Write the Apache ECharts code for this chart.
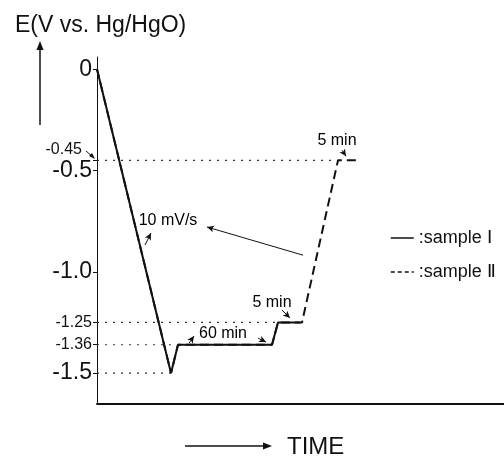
<!DOCTYPE html>
<html>
<head>
<meta charset="utf-8">
<script src="https://cdn.jsdelivr.net/npm/echarts@6/dist/echarts.min.js"></script>
<style>
html,body{margin:0;padding:0;background:#fff;}
#c{width:504px;height:457px;}
</style>
</head>
<body>
<div id="c"></div>
<script>
// ---- data (schematic time units, E in V vs Hg/HgO) ----
const yTickValues = [0, -0.45, -0.5, -1.0, -1.25, -1.36, -1.5];
const yTickLabels = ['0', '-0.45', '-0.5', '-1.0', '-1.25', '-1.36', '-1.5'];
const sampleI_t = [0, 74, 81, 175, 181, 203];
const sampleI_E = [0, -1.5, -1.36, -1.36, -1.25, -1.25];
const sampleII_t = [0, 74, 81, 175, 181, 205, 241, 263];
const sampleII_E = [0, -1.5, -1.36, -1.36, -1.25, -1.25, -0.45, -0.45];
const refLevels = [-0.45, -1.25, -1.36, -1.5];
const refEnds = [241, 181, 81, 74];
const seriesNames = ['sample Ⅰ', 'sample Ⅱ'];
const annoTexts = ['10 mV/s', '60 min', '5 min', '5 min'];
const annoT = [71, 126, 175, 240];
const annoE = [-0.745, -1.307, -1.154, -0.355];
const arrowFromT = [206, 48, 92, 161, 185, 245];
const arrowFromE = [-0.918, -0.868, -1.352, -1.327, -1.189, -0.40];
const arrowToT = [110, 54, 97, 169, 193, 249];
const arrowToE = [-0.779, -0.809, -1.317, -1.347, -1.228, -0.43];

const FONT = '"Liberation Sans", Arial, sans-serif';
const INK = '#111';

const chart = echarts.init(document.getElementById('c'), null, {renderer: 'canvas'});

const zip = (a, b) => a.map((v, i) => [v, b[i]]);

const series = [
  {
    name: seriesNames[0], type: 'line', data: zip(sampleI_t, sampleI_E),
    symbol: 'none', lineStyle: {color: INK, width: 2, type: 'solid'}, itemStyle: {color: INK},
    z: 3
  },
  {
    name: seriesNames[1], type: 'line', data: zip(sampleII_t, sampleII_E),
    symbol: 'none', lineStyle: {color: INK, width: 2, type: [9, 5]}, itemStyle: {color: INK},
    z: 4
  }
];
refLevels.forEach((lv, i) => {
  series.push({
    type: 'line', data: [[0, lv], [refEnds[i], lv]], symbol: 'none', silent: true,
    lineStyle: {color: '#333', width: 1.2, type: [2, 6]}, z: 2
  });
});
series.push({
  type: 'scatter', symbolSize: 1, silent: true,
  itemStyle: {opacity: 0},
  data: annoTexts.map((t, i) => ({value: [annoT[i], annoE[i]], name: t})),
  label: {show: true, position: 'inside', formatter: p => p.name,
    fontFamily: FONT, fontSize: 16, color: '#000', opacity: 1}
});
series.push({
  type: 'line', data: [], silent: true,
  markLine: {
    silent: true, symbol: ['none', 'arrow'], symbolSize: [5, 7],
    label: {show: false},
    lineStyle: {color: INK, width: 1, type: 'solid'},
    data: arrowFromT.map((t, i) => [{coord: [t, arrowFromE[i]]}, {coord: [arrowToT[i], arrowToE[i]]}])
  }
});

const labelMap = {};
yTickValues.forEach((v, i) => labelMap[v.toFixed(2)] = yTickLabels[i]);

chart.setOption({
  animation: false,
  backgroundColor: '#fff',
  title: {
    text: 'E(V vs. Hg/HgO)', left: 10, top: 9,
    textStyle: {fontFamily: FONT, fontSize: 23, fontWeight: 'normal', color: INK}
  },
  legend: {
    orient: 'vertical', left: 385, top: 224, itemGap: 16,
    itemWidth: 23, itemHeight: 12,
    data: [
      {name: seriesNames[0], lineStyle: {width: 1.5, type: 'solid', color: INK},
        itemStyle: {opacity: 0, color: 'transparent', borderWidth: 0}},
      {name: seriesNames[1], lineStyle: {width: 1.5, type: [4, 3], color: INK},
        itemStyle: {opacity: 0, color: 'transparent', borderWidth: 0}}
    ],
    formatter: n => ':' + n,
    textStyle: {fontFamily: FONT, fontSize: 18, color: INK},
    selectedMode: false
  },
  grid: {left: 97, top: 57, width: 407, height: 346.5},
  xAxis: {
    type: 'value', min: 0, max: 407,
    axisLine: {show: true, onZero: false, lineStyle: {color: INK, width: 2}},
    axisTick: {show: false}, axisLabel: {show: false}, splitLine: {show: false}
  },
  yAxis: {
    type: 'value', min: -1.65, max: 0.06,
    axisLine: {show: true, onZero: false, lineStyle: {color: INK, width: 1}},
    axisTick: {show: true, customValues: yTickValues, length: 4, lineStyle: {color: INK}},
    splitLine: {show: false},
    axisLabel: {
      show: true, customValues: yTickValues, margin: 5,
      formatter: v => {
        const t = labelMap[Number(v).toFixed(2)];
        if (t === '-0.45') return '{u|' + t + '}';
        if (t === '0' || t === '-0.5' || t === '-1.0' || t === '-1.5') return '{b|' + t + '}';
        return '{s|' + t + '}';
      },
      rich: {
        b: {fontFamily: FONT, fontSize: 23, color: INK},
        s: {fontFamily: FONT, fontSize: 16, color: INK},
        u: {fontFamily: FONT, fontSize: 16, color: INK, padding: [0, 10, 22, 0]}
      }
    }
  },
  graphic: [
    {type: 'line', shape: {x1: 40, y1: 125, x2: 40, y2: 48}, style: {stroke: INK, lineWidth: 1.5}},
    {type: 'polygon', shape: {points: [[40, 41], [36.5, 50], [43.5, 50]]}, style: {fill: INK}},
    {type: 'line', shape: {x1: 185, y1: 446, x2: 264, y2: 446}, style: {stroke: INK, lineWidth: 1.5}},
    {type: 'polygon', shape: {points: [[272, 446], [263, 442.5], [263, 449.5]]}, style: {fill: INK}},
    {type: 'text', left: 287, top: 435, style: {text: 'TIME', fontFamily: FONT, fontSize: 24, fill: INK}},
    {type: 'line', shape: {x1: 86, y1: 151, x2: 93, y2: 157}, style: {stroke: INK, lineWidth: 1}},
    {type: 'polygon', shape: {points: [[95, 159], [89, 156], [92, 153]]}, style: {fill: INK}}
  ],
  series: series
});
</script>
</body>
</html>
